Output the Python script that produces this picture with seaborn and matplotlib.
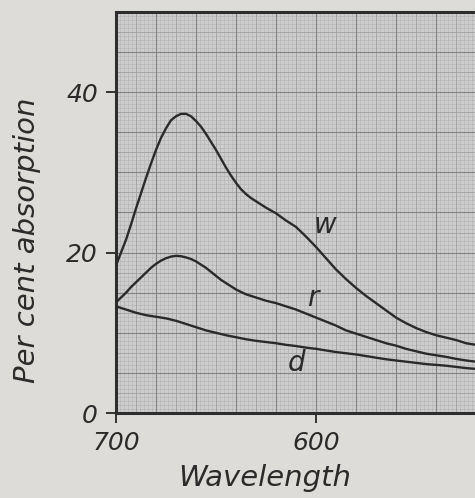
import numpy as np
import pandas as pd
import matplotlib
matplotlib.use("Agg")
import matplotlib.pyplot as plt
import seaborn as sns

# ---- data ----
wavelength = [700, 697.5, 695, 692.5, 690, 687.5, 685, 682.5, 680, 677.5, 675, 672.5,
              670, 667.5, 665, 662.5, 660, 657.5, 655, 652.5, 650, 647.5, 645, 642.5,
              640, 637.5, 635, 632.5, 630, 625, 620, 615, 610, 605, 600, 595, 590,
              585, 580, 575, 570, 565, 560, 555, 550, 545, 540, 535, 530, 525, 520]
w_vals = [18.4, 20.0, 21.6, 23.5, 25.5, 27.4, 29.3, 31.1, 32.8, 34.3, 35.5, 36.5,
          37.0, 37.3, 37.3, 37.0, 36.4, 35.7, 34.8, 33.8, 32.8, 31.7, 30.6, 29.6,
          28.7, 27.9, 27.3, 26.8, 26.4, 25.6, 24.9, 24.0, 23.2, 22.0, 20.7, 19.3, 17.9,
          16.7, 15.6, 14.6, 13.7, 12.8, 11.9, 11.2, 10.6, 10.1, 9.7, 9.4, 9.1, 8.7, 8.5]
r_vals = [13.8, 14.4, 15.0, 15.7, 16.3, 16.9, 17.5, 18.1, 18.6, 19.0, 19.3, 19.5,
          19.6, 19.55, 19.4, 19.2, 18.9, 18.5, 18.1, 17.6, 17.1, 16.6, 16.2, 15.8,
          15.4, 15.1, 14.8, 14.6, 14.4, 14.0, 13.7, 13.3, 12.9, 12.4, 11.9, 11.4, 10.9,
          10.3, 9.9, 9.5, 9.1, 8.7, 8.4, 8.0, 7.7, 7.4, 7.2, 7.0, 6.75, 6.55, 6.4]
d_vals = [13.3, 13.1, 12.9, 12.7, 12.5, 12.35, 12.2, 12.1, 12.0, 11.9, 11.8, 11.65,
          11.5, 11.3, 11.1, 10.9, 10.7, 10.5, 10.3, 10.15, 10.0, 9.85, 9.7, 9.57,
          9.45, 9.32, 9.2, 9.1, 9.0, 8.85, 8.7, 8.5, 8.35, 8.15, 8.0, 7.8, 7.6,
          7.45, 7.3, 7.1, 6.9, 6.7, 6.55, 6.4, 6.25, 6.1, 6.0, 5.9, 5.75, 5.6, 5.5]
series_names = ["w", "r", "d"]
label_pos = {"w": (595.5, 23.4), "r": (601.5, 14.4), "d": (609.5, 6.2)}
x_ticks = [700, 600]
y_ticks = [0, 20, 40]

df = pd.concat([
    pd.DataFrame({"Wavelength": wavelength, "absorption": vals, "series": name})
    for name, vals in zip(series_names, [w_vals, r_vals, d_vals])
], ignore_index=True)

sns.set_theme(style="white")
plt.rcParams["font.family"] = ["DejaVu Sans"]

W, H = 475, 498
fig = plt.figure(figsize=(W / 100, H / 100), dpi=100, facecolor="#dddcd8")
left_px, right_px, top_px, bottom_px = 116, 475, 12, 413
ax = fig.add_axes([left_px / W, 1 - bottom_px / H,
                   (right_px - left_px) / W, (bottom_px - top_px) / H])
ax.set_facecolor("#cdcdcd")

ax.set_xlim(700, 520.5)
ax.set_ylim(0, 50)

# graph-paper grid
for xv in np.arange(520, 701, 2):
    ax.axvline(xv, color="#b4b4b4", lw=0.45, zorder=0)
for yv in np.arange(0, 50.1, 0.5):
    ax.axhline(yv, color="#b4b4b4", lw=0.45, zorder=0)
for xv in np.arange(520, 701, 10):
    ax.axvline(xv, color="#a2a2a2", lw=0.6, zorder=0.5)
for yv in np.arange(0, 50.1, 2.5):
    ax.axhline(yv, color="#a2a2a2", lw=0.6, zorder=0.5)
for xv in np.arange(520, 701, 20):
    ax.axvline(xv, color="#858585", lw=0.85, zorder=0.6)
for yv in np.arange(0, 50.1, 5):
    ax.axhline(yv, color="#858585", lw=0.85, zorder=0.6)

sns.lineplot(data=df, x="Wavelength", y="absorption", units="series",
             estimator=None, color="#2a2a2a", linewidth=1.7, ax=ax,
             legend=False, zorder=3)

txt_kw = dict(color="#2b2b2b", fontstyle="oblique", family="DejaVu Sans")
for name in series_names:
    lx, ly = label_pos[name]
    ax.text(lx, ly, name, fontsize=20, ha="center", va="center", **txt_kw)

ax.set_xticks(x_ticks)
ax.set_xticklabels([str(v) for v in x_ticks], fontsize=18, **txt_kw)
ax.set_yticks(y_ticks)
ax.set_yticklabels([str(v) for v in y_ticks], fontsize=18, **txt_kw)
ax.tick_params(axis="both", direction="out", length=7, width=1.4,
               color="#333333", pad=6, bottom=True, left=True)

ax.set_xlabel("Wavelength", fontsize=21, **txt_kw)
ax.xaxis.set_label_coords(0.415, -0.162)
ax.xaxis.label.set_va("center")
ax.set_ylabel("Per cent absorption", fontsize=21, **txt_kw)
ax.yaxis.set_label_coords(-0.248, 0.431)
ax.yaxis.label.set_va("center")

for s in ["left", "bottom", "top"]:
    ax.spines[s].set_color("#2e2e2e")
    ax.spines[s].set_linewidth(2.2)
ax.spines["right"].set_visible(False)

fig.savefig("out.png", dpi=100, facecolor=fig.get_facecolor())
